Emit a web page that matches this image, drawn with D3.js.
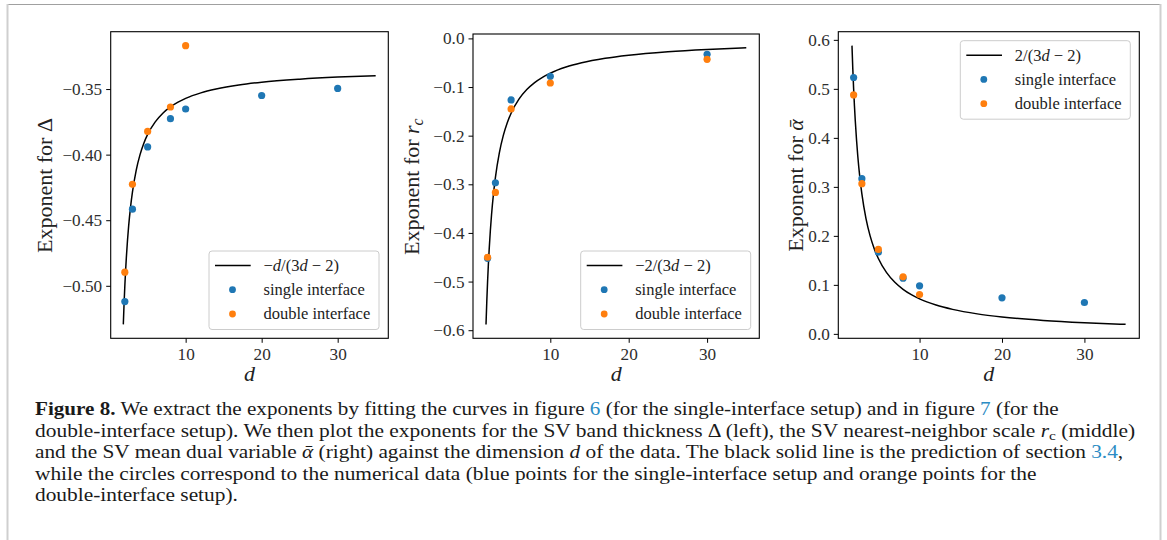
<!DOCTYPE html>
<html><head><meta charset="utf-8">
<script src="https://cdn.jsdelivr.net/npm/d3@7"></script>
<style>
html,body{margin:0;padding:0;background:#fff;}
svg{display:block;}
text{font-family:"Liberation Serif","Times New Roman",serif;}
</style></head><body>
<svg id="fig" width="1167" height="540"></svg>
<script>
// ---------------- data ----------------
const xTickValues = [10, 20, 30];
const yTicksDelta = [-0.50, -0.45, -0.40, -0.35];
const yTicksRc = [-0.6, -0.5, -0.4, -0.3, -0.2, -0.1, 0.0];
const yTicksAlpha = [0.0, 0.1, 0.2, 0.3, 0.4, 0.5, 0.6];

// prediction curves, sampled along d
const dCurve = [1.8, 1.9, 2, 2.1, 2.2, 2.35, 2.5, 2.75, 3, 3.5, 4, 4.5, 5, 6, 7, 8, 9, 10, 12, 14, 17, 20, 25, 30, 35];
const curveDelta = [-0.5294, -0.5135, -0.5, -0.4884, -0.4783, -0.4653, -0.4545, -0.44, -0.4286, -0.4118, -0.4, -0.3913, -0.3846, -0.375, -0.3684, -0.3636, -0.36, -0.3571, -0.3529, -0.35, -0.3469, -0.3448, -0.3425, -0.3409, -0.3398];
const curveRc = [-0.5882, -0.5405, -0.5, -0.4651, -0.4348, -0.396, -0.3636, -0.32, -0.2857, -0.2353, -0.2, -0.1739, -0.1538, -0.125, -0.1053, -0.0909, -0.08, -0.0714, -0.0588, -0.05, -0.0408, -0.0345, -0.0274, -0.0227, -0.0194];
const curveAlpha = [0.5882, 0.5405, 0.5, 0.4651, 0.4348, 0.396, 0.3636, 0.32, 0.2857, 0.2353, 0.2, 0.1739, 0.1538, 0.125, 0.1053, 0.0909, 0.08, 0.0714, 0.0588, 0.05, 0.0408, 0.0345, 0.0274, 0.0227, 0.0194];

// numerical data
const dSingleDelta = [2, 3, 5, 8, 10, 20, 30];
const singleDelta = [-0.512, -0.4416, -0.3941, -0.3726, -0.3652, -0.3549, -0.3495];
const dDoubleDelta = [2, 3, 5, 8, 10];
const doubleDelta = [-0.4896, -0.4226, -0.3823, -0.3637, -0.3169];

const dSingleRc = [2, 3, 5, 10, 30];
const singleRc = [-0.4523, -0.2969, -0.1266, -0.078, -0.0328];
const dDoubleRc = [2, 3, 5, 10, 30];
const doubleRc = [-0.450, -0.3168, -0.1451, -0.0917, -0.0431];

const dSingleAlpha = [2, 3, 5, 8, 10, 20, 30];
const singleAlpha = [0.5232, 0.3168, 0.1668, 0.1136, 0.0981, 0.0736, 0.064];
const dDoubleAlpha = [2, 3, 5, 8, 10];
const doubleAlpha = [0.4876, 0.3066, 0.1723, 0.1165, 0.0803];

const seriesNames = ["single interface", "double interface"];

// ---------------- drawing ----------------
const BLUE = "#1f77b4", ORANGE = "#ff7f0e";
const svg = d3.select("#fig");

// page frame
svg.append("line").attr("x1", 7).attr("x2", 1161).attr("y1", 4.5).attr("y2", 4.5).attr("stroke", "#a0a0a0").attr("stroke-width", 1.2);
svg.append("line").attr("x1", 7.5).attr("x2", 7.5).attr("y1", 4).attr("y2", 540).attr("stroke", "#cfcfcf").attr("stroke-width", 2);
svg.append("line").attr("x1", 1160.5).attr("x2", 1160.5).attr("y1", 4).attr("y2", 540).attr("stroke", "#cfcfcf").attr("stroke-width", 2);

const zip = (xs, ys) => xs.map((x, i) => [x, ys[i]]);

const panels = [
  { box: [110.7, 31.7, 388.3, 338.3], yTicks: yTicksDelta, fmt: ".2f",
    curve: zip(dCurve, curveDelta), single: zip(dSingleDelta, singleDelta), double: zip(dDoubleDelta, doubleDelta),
    ylabelX: 51.5, ylabel: [{t: "Exponent for "}, {t: "\u0394"}],
    legendPos: [209, 251], legendFormula: [{t: "\u2212"}, {t: "d", i: true}, {t: "/(3"}, {t: "d", i: true}, {t: " \u2212 2)"}] },
  { box: [473, 34, 759.3, 338.3], yTicks: yTicksRc, fmt: ".1f",
    curve: zip(dCurve, curveRc), single: zip(dSingleRc, singleRc), double: zip(dDoubleRc, doubleRc),
    ylabelX: 419, ylabel: [{t: "Exponent for "}, {t: "r", i: true}, {t: "c", i: true, sub: true}],
    legendPos: [580.7, 251], legendFormula: [{t: "\u22122/(3"}, {t: "d", i: true}, {t: " \u2212 2)"}] },
  { box: [838.3, 31.7, 1139.3, 338.3], yTicks: yTicksAlpha, fmt: ".1f",
    curve: zip(dCurve, curveAlpha), single: zip(dSingleAlpha, singleAlpha), double: zip(dDoubleAlpha, doubleAlpha),
    ylabelX: 803, ylabel: [{t: "Exponent for "}, {t: "\u1FB1", i: true}],
    legendPos: [960.3, 40.7], legendFormula: [{t: "2/(3"}, {t: "d", i: true}, {t: " \u2212 2)"}] }
];

function addSpans(textSel, parts) {
  parts.forEach(p => {
    const ts = textSel.append("tspan").text(p.t);
    if (p.i) ts.attr("font-style", "italic");
    if (p.sub) ts.attr("font-size", "0.72em").attr("dy", "0.22em");
  });
}

const minusLocale = d3.formatLocale({decimal: ".", thousands: ",", grouping: [3], currency: ["", ""], minus: "\u2212"});

panels.forEach(P => {
  const [x0, y0, x1, y1] = P.box;
  const allX = P.curve.map(d => d[0]).concat(P.single.map(d => d[0]), P.double.map(d => d[0]));
  const allY = P.curve.map(d => d[1]).concat(P.single.map(d => d[1]), P.double.map(d => d[1]));
  const [xmn, xmx] = d3.extent(allX), [ymn, ymx] = d3.extent(allY);
  const xp = (xmx - xmn) * 0.05, yp = (ymx - ymn) * 0.05;
  const x = d3.scaleLinear().domain([xmn - xp, xmx + xp]).range([x0, x1]);
  const y = d3.scaleLinear().domain([ymn - yp, ymx + yp]).range([y1, y0]);
  const g = svg.append("g");

  const clipId = "clip" + Math.round(x0);
  g.append("clipPath").attr("id", clipId).append("rect").attr("x", x0).attr("y", y0).attr("width", x1 - x0).attr("height", y1 - y0);
  const plot = g.append("g").attr("clip-path", `url(#${clipId})`);

  plot.append("path").datum(P.curve)
    .attr("d", d3.line().x(d => x(d[0])).y(d => y(d[1])).curve(d3.curveMonotoneX))
    .attr("fill", "none").attr("stroke", "#000").attr("stroke-width", 1.5);
  plot.selectAll("circle.s").data(P.single).join("circle").attr("class", "s")
    .attr("cx", d => x(d[0])).attr("cy", d => y(d[1])).attr("r", 3.6).attr("fill", BLUE);
  plot.selectAll("circle.o").data(P.double).join("circle").attr("class", "o")
    .attr("cx", d => x(d[0])).attr("cy", d => y(d[1])).attr("r", 3.6).attr("fill", ORANGE);

  // axes
  const xa = g.append("g").attr("transform", `translate(0,${y1})`)
    .call(d3.axisBottom(x).tickValues(xTickValues).tickSize(4.5).tickPadding(5).tickSizeOuter(0).tickFormat(d3.format("d")));
  const ya = g.append("g").attr("transform", `translate(${x0},0)`)
    .call(d3.axisLeft(y).tickValues(P.yTicks).tickSize(4.5).tickPadding(4).tickSizeOuter(0).tickFormat(minusLocale.format(P.fmt)));
  [xa, ya].forEach(a => {
    a.attr("font-family", null).attr("font-size", null);
    a.select(".domain").remove();
    a.selectAll(".tick line").attr("stroke", "#000").attr("stroke-width", 1);
    a.selectAll(".tick text").attr("font-size", 17.2).attr("fill", "#2e2e2e");
  });

  // frame
  g.append("rect").attr("x", x0).attr("y", y0).attr("width", x1 - x0).attr("height", y1 - y0)
    .attr("fill", "none").attr("stroke", "#000").attr("stroke-width", 1.1);

  // axis labels
  g.append("text").attr("x", (x0 + x1) / 2).attr("y", 381).attr("text-anchor", "middle")
    .attr("font-size", 22).attr("font-style", "italic").attr("fill", "#222").text("d");
  const yl = g.append("text").attr("transform", `translate(${P.ylabelX},${(y0 + y1) / 2 + 0.5}) rotate(-90)`)
    .attr("text-anchor", "middle").attr("font-size", 22).attr("fill", "#222");
  addSpans(yl, P.ylabel);

  // legend
  const [lx, ly] = P.legendPos;
  const lg = g.append("g").attr("transform", `translate(${lx},${ly})`);
  lg.append("rect").attr("width", 170).attr("height", 78.5).attr("rx", 3)
    .attr("fill", "#fff").attr("fill-opacity", 0.8).attr("stroke", "#cccccc").attr("stroke-width", 1);
  lg.append("line").attr("x1", 6).attr("x2", 41.7).attr("y1", 14.5).attr("y2", 14.5).attr("stroke", "#000").attr("stroke-width", 1.5);
  const lt = lg.append("text").attr("x", 54.5).attr("y", 14.5).attr("dy", "0.33em").attr("font-size", 16.5).attr("fill", "#222");
  addSpans(lt, P.legendFormula);
  [BLUE, ORANGE].forEach((c, i) => {
    const yy = 38.7 + i * 24.3;
    lg.append("circle").attr("cx", 23.5).attr("cy", yy).attr("r", 3.4).attr("fill", c);
    lg.append("text").attr("x", 54.5).attr("y", yy).attr("dy", "0.33em").attr("font-size", 16.5).attr("fill", "#222").text(seriesNames[i]);
  });
});

// ---------------- caption ----------------
const LINK = "#2b8cc4";
const captionLines = [
  { w: 1024, parts: [{t: "Figure 8.", b: true}, {t: " We extract the exponents by fitting the curves in figure "}, {t: "6", c: LINK}, {t: " (for the single-interface setup) and in figure "}, {t: "7", c: LINK}, {t: " (for the"}] },
  { w: 1101, parts: [{t: "double-interface setup). We then plot the exponents for the SV band thickness \u0394 (left), the SV nearest-neighbor scale "}, {t: "r", i: true}, {t: "c", sub: true}, {t: " (middle)", up: true}] },
  { w: 1089, parts: [{t: "and the SV mean dual variable "}, {t: "\u1FB1", i: true}, {t: " (right) against the dimension "}, {t: "d", i: true}, {t: " of the data. The black solid line is the prediction of section "}, {t: "3.4", c: LINK}, {t: ","}] },
  { w: 1002, parts: [{t: "while the circles correspond to the numerical data (blue points for the single-interface setup and orange points for the"}] },
  { w: null, parts: [{t: "double-interface setup)."}] }
];
let lastScale = 1;
captionLines.forEach((L, k) => {
  const t = svg.append("text").attr("x", 0).attr("y", 0).attr("font-size", 18).attr("fill", "#1a1a1a");
  L.parts.forEach(p => {
    const ts = t.append("tspan").text(p.t);
    if (p.b) ts.attr("font-weight", "bold");
    if (p.i) ts.attr("font-style", "italic");
    if (p.c) ts.attr("fill", p.c);
    if (p.sub) ts.attr("font-size", 13).attr("dy", 3);
    if (p.up) ts.attr("dy", -3);
  });
  const s = L.w ? L.w / t.node().getComputedTextLength() : lastScale;
  lastScale = s;
  t.attr("transform", `translate(35,${415 + k * 21.5}) scale(${s},1)`);
});
</script>
</body></html>
